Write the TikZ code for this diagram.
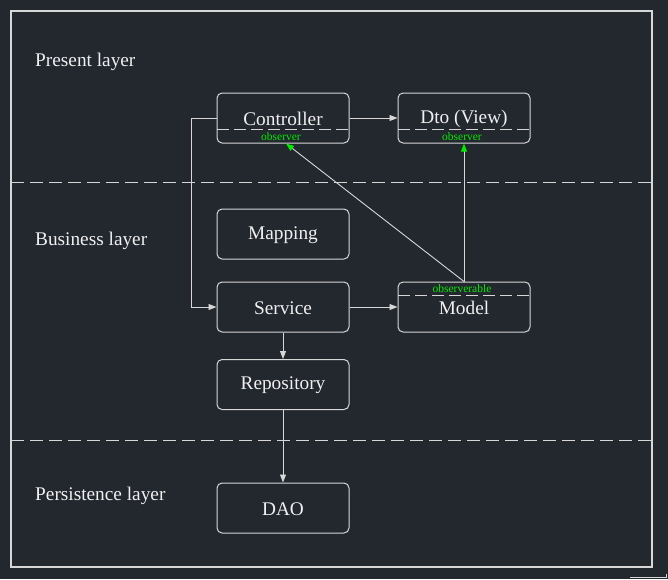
\documentclass[tikz,border=0pt]{standalone}
\usepackage{fontspec}
\setmainfont{Liberation Serif}
\usetikzlibrary{arrows.meta,calc}
\definecolor{bgc}{RGB}{35,39,46}
\definecolor{linec}{RGB}{215,215,215}
\definecolor{txtc}{RGB}{240,240,240}
\definecolor{grn}{RGB}{0,235,0}
\tikzset{
  box/.style={draw=linec, line width=1pt, rounded corners=5pt, minimum width=132pt, minimum height=50pt, inner sep=0pt, text=txtc, font=\fontsize{19.3}{20}\selectfont},
  btxt/.style={text=txtc, inner sep=0pt, font=\fontsize{19.3}{20}\selectfont},
  lay/.style={anchor=west, text=txtc, inner sep=0pt, font=\fontsize{19.3}{20}\selectfont},
  small/.style={text=grn, inner sep=0pt, font=\fontsize{11.5}{12}\selectfont},
  conn/.style={draw=linec, line width=0.9pt, -{Triangle[length=8pt,width=6pt]}},
  gconn/.style={draw=linec, line width=0.9pt, -{Triangle[length=8pt,width=6pt,color=grn,fill=grn]}},
  sep/.style={draw=linec, line width=1pt, dash pattern=on 13pt off 6pt},
  isep/.style={draw=linec, line width=1pt, dash pattern=on 12pt off 5pt}
}
\begin{document}
\begin{tikzpicture}[x=1pt,y=-1pt]
\fill[bgc] (0,0) rectangle (668,579);
\useasboundingbox (0,0) rectangle (668,579);
\draw[linec, line width=1.3pt] (11,11) rectangle (652,567);
\draw[linec, line width=1pt] (630,577) -- (666,577) -- (666,574);
\draw[sep] (11,182) -- (652,182);
\draw[sep] (11,440) -- (652,440);

\node[lay] (lp) at (35,62) {Present layer};
\node[lay] (lb) at (35,241) {Business layer};
\node[lay] (lr) at (35,496) {Persistence layer};

\node[box] (ctrl) at (283,118) {};
\node[btxt] (ctrlt) at (283,119) {Controller};
\draw[isep] (217,129) -- (349,129);
\node[small] (obs1) at (281,137) {observer};

\node[box] (dto) at (464,118) {};
\node[btxt] (dtot) at (464,119) {Dto (View)};
\draw[isep] (398,129) -- (530,129);
\node[small] (obs2) at (462,137) {observer};

\node[box] (map) at (283,234) {};
\node[btxt] (mapt) at (283,235) {Mapping};
\node[box] (svc) at (283,307) {};
\node[btxt] (svct) at (283,308) {Service};

\node[box] (mdl) at (464,307) {};
\node[btxt] (mdlt) at (464,308) {Model};
\draw[isep] (398,295) -- (530,295);
\node[small] (obs3) at (462,289) {observerable};

\node[box] (repo) at (283,384.5) {};
\node[btxt] (repot) at (283,385.5) {Repository};
\node[box] (dao) at (283,508) {};
\node[btxt] (daot) at (283,509) {DAO};

\draw[conn] (ctrl.east) -- (dto.west);
\draw[conn] (ctrl.west) -- ++(-25,0) |- (svc.west);
\draw[conn] (svc.east) -- (mdl.west);
\draw[conn] (svc.south) -- (repo.north);
\draw[conn] (repo.south) -- (dao.north);
\draw[gconn] (mdl.north) -- (dto.south);
\draw[gconn] (mdl.north) -- ($(ctrl.south)+(3,0)$);
\end{tikzpicture}
\end{document}
